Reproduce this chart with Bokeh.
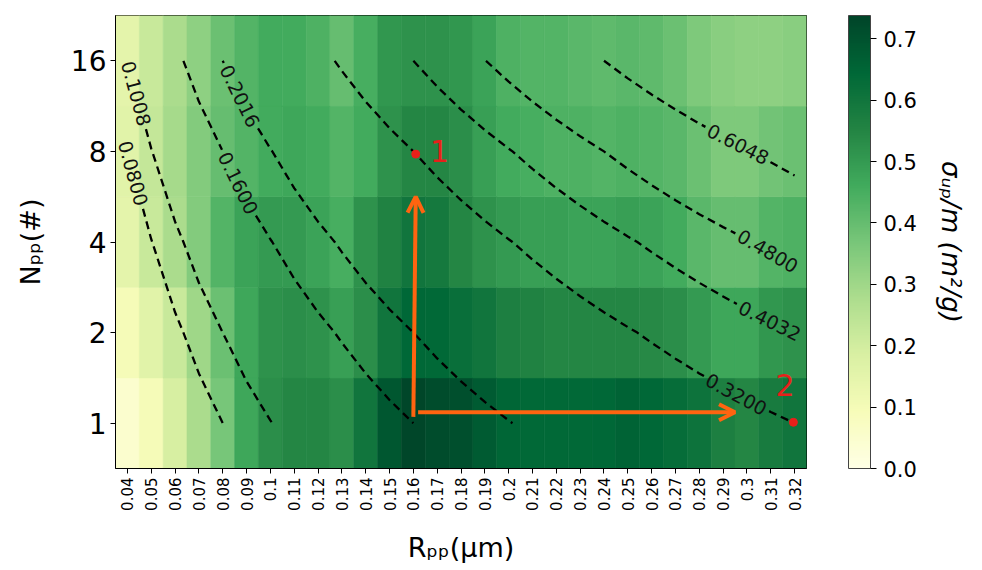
import math
import numpy as np
from bokeh.plotting import figure
from bokeh.models import (ColumnDataSource, LinearColorMapper, ColorBar, FixedTicker,
                          Range1d, LinearAxis, PrintfTickFormatter, Arrow, OpenHead)
from bokeh.core.properties import value
from bokeh.embed import file_html
from bokeh.resources import INLINE

# ---------------- data ----------------
R_UM = [0.04, 0.05, 0.06, 0.07, 0.08, 0.09, 0.10, 0.11, 0.12, 0.13, 0.14, 0.15,
        0.16, 0.17, 0.18, 0.19, 0.20, 0.21, 0.22, 0.23, 0.24, 0.25, 0.26, 0.27,
        0.28, 0.29, 0.30, 0.31, 0.32]
R_LABELS = ["0.04", "0.05", "0.06", "0.07", "0.08", "0.09", "0.1", "0.11", "0.12",
            "0.13", "0.14", "0.15", "0.16", "0.17", "0.18", "0.19", "0.2", "0.21",
            "0.22", "0.23", "0.24", "0.25", "0.26", "0.27", "0.28", "0.29", "0.3",
            "0.31", "0.32"]
N_PP = [1, 2, 4, 8, 16]
N_LABELS = ["1", "2", "4", "8", "16"]

# sigma_up / m  (m^2/g), one list per N_pp row
SIGMA_N1 = [0.05, 0.10, 0.19, 0.28, 0.37, 0.47, 0.53, 0.55, 0.55, 0.53, 0.60, 0.69,
            0.735, 0.72, 0.71, 0.68, 0.65, 0.64, 0.64, 0.64, 0.645, 0.66, 0.645, 0.63,
            0.61, 0.57, 0.55, 0.58, 0.60]
SIGMA_N2 = [0.10, 0.16, 0.22, 0.30, 0.39, 0.47, 0.52, 0.53, 0.52, 0.49, 0.53, 0.60,
            0.645, 0.64, 0.62, 0.60, 0.57, 0.56, 0.55, 0.55, 0.55, 0.55, 0.54, 0.53,
            0.50, 0.47, 0.47, 0.51, 0.52]
SIGMA_N4 = [0.15, 0.22, 0.28, 0.35, 0.43, 0.48, 0.50, 0.50, 0.48, 0.45, 0.52, 0.56,
            0.60, 0.59, 0.55, 0.52, 0.50, 0.49, 0.49, 0.48, 0.48, 0.49, 0.48, 0.46,
            0.42, 0.40, 0.40, 0.43, 0.44]
SIGMA_N8 = [0.16, 0.23, 0.29, 0.35, 0.40, 0.43, 0.46, 0.47, 0.46, 0.43, 0.46, 0.52,
            0.55, 0.55, 0.53, 0.49, 0.46, 0.45, 0.44, 0.44, 0.43, 0.44, 0.43, 0.42,
            0.39, 0.36, 0.36, 0.38, 0.39]
SIGMA_N16 = [0.15, 0.22, 0.28, 0.33, 0.39, 0.43, 0.46, 0.46, 0.44, 0.40, 0.45, 0.51,
             0.52, 0.52, 0.51, 0.48, 0.44, 0.43, 0.43, 0.42, 0.41, 0.42, 0.41, 0.39,
             0.36, 0.34, 0.33, 0.33, 0.34]
COLOR_MAX = 0.738

CONTOUR_LEVELS = [0.0800, 0.1008, 0.1600, 0.2016, 0.3200, 0.4032, 0.4800, 0.6048]
CONTOUR_LABELS = ["0.0800", "0.1008", "0.1600", "0.2016", "0.3200", "0.4032", "0.4800", "0.6048"]
CB_TICKS = [0.0, 0.1, 0.2, 0.3, 0.4, 0.5, 0.6, 0.7]

# ---------------- layout / style ----------------
FRAME_W, FRAME_H = 691, 453
FONT = "DejaVu Sans"
LABEL_Y = [2.76, 3.64, 2.65, 3.61, 0.32, 1.13, 1.90, 3.08]   # label positions along lines
ORANGE = "#ff6410"
RED = "#e8201a"

# colormap YlGn (matplotlib anchors) interpolated to 256
YLGN = ['#ffffe5', '#f7fcb9', '#d9f0a3', '#addd8e', '#78c679', '#41ab5d',
        '#238443', '#006837', '#004529']


def interp_palette(anchors, n=256):
    rgb = [tuple(int(h[i:i + 2], 16) for i in (1, 3, 5)) for h in anchors]
    out = []
    for k in range(n):
        t = k / (n - 1) * (len(rgb) - 1)
        i = min(int(t), len(rgb) - 2)
        f = t - i
        c = [round(rgb[i][m] + (rgb[i + 1][m] - rgb[i][m]) * f) for m in range(3)]
        out.append('#%02x%02x%02x' % tuple(c))
    return out


palette = interp_palette(YLGN)
mapper = LinearColorMapper(palette=palette, low=0.0, high=COLOR_MAX)

rows = [SIGMA_N1, SIGMA_N2, SIGMA_N4, SIGMA_N8, SIGMA_N16]
xs, ys, vs = [], [], []
for i, row in enumerate(rows):
    for j, v in enumerate(row):
        xs.append(j)
        ys.append(i)
        vs.append(v)
src = ColumnDataSource(dict(x=xs, y=ys, v=vs))

p = figure(frame_width=FRAME_W, frame_height=FRAME_H,
           x_range=Range1d(-0.5, len(R_UM) - 0.5), y_range=Range1d(-0.5, len(N_PP) - 0.5),
           output_backend="svg", toolbar_location=None,
           min_border_left=115, min_border_top=15, min_border_right=4, min_border_bottom=2)

cmap = {"field": "v", "transform": mapper}
p.rect(x="x", y="y", width=1, height=1, source=src, fill_color=cmap,
       line_color=cmap, line_width=0.6)

# contour field: equivalent radius R * N^(1/3) on the cell-centre grid
Q = np.array([[r * n ** (1.0 / 3.0) for r in R_UM] for n in N_PP])
SX = FRAME_W / len(R_UM)
SY = FRAME_H / len(N_PP)


def contour_pts(Q, L):
    pts = []
    ny, nx = Q.shape
    for i in range(ny):
        for j in range(nx - 1):
            a, b = Q[i, j], Q[i, j + 1]
            if (a - L) * (b - L) <= 0 and a != b:
                pts.append((j + (L - a) / (b - a), i))
    for j in range(nx):
        for i in range(ny - 1):
            a, b = Q[i, j], Q[i + 1, j]
            if (a - L) * (b - L) <= 0 and a != b:
                pts.append((j, i + (L - a) / (b - a)))
    pts = sorted(set((round(x, 9), round(y, 9)) for x, y in pts), key=lambda q: (q[0], -q[1]))
    return pts


def split_line(pts, yc, gap):
    P = [(x * SX, y * SY) for x, y in pts]
    s = [0.0]
    for k in range(1, len(P)):
        s.append(s[-1] + math.dist(P[k - 1], P[k]))
    ys_ = yc * SY
    s0 = None
    for k in range(len(P) - 1):
        if P[k][1] >= ys_ >= P[k + 1][1] and P[k][1] != P[k + 1][1]:
            f = (P[k][1] - ys_) / (P[k][1] - P[k + 1][1])
            s0 = s[k] + f * (s[k + 1] - s[k])
            break
    if s0 is None:
        s0 = s[-1] / 2

    def at(sv):
        sv = min(max(sv, 0), s[-1])
        for k in range(len(P) - 1):
            if s[k] <= sv <= s[k + 1]:
                f = 0 if s[k + 1] == s[k] else (sv - s[k]) / (s[k + 1] - s[k])
                return (P[k][0] + f * (P[k + 1][0] - P[k][0]), P[k][1] + f * (P[k + 1][1] - P[k][1]))
        return P[-1]

    segs = []
    a_end, b_start = s0 - gap / 2, s0 + gap / 2
    if a_end > 0:
        seg = [P[k] for k in range(len(P)) if s[k] < a_end] + [at(a_end)]
        segs.append(seg)
    if b_start < s[-1]:
        seg = [at(b_start)] + [P[k] for k in range(len(P)) if s[k] > b_start]
        segs.append(seg)
    c = at(s0)
    pa, pb = at(s0 - 12), at(s0 + 12)
    ang = math.atan2(pb[1] - pa[1], pb[0] - pa[0])
    if ang > math.pi / 2:
        ang -= math.pi
    if ang <= -math.pi / 2:
        ang += math.pi
    segs = [[(x / SX, y / SY) for x, y in sg] for sg in segs]
    return segs, (c[0] / SX, c[1] / SY), ang


ml_x, ml_y = [], []
lab_x, lab_y, lab_t, lab_a = [], [], [], []
for L, txt, yc in zip(CONTOUR_LEVELS, CONTOUR_LABELS, LABEL_Y):
    pts = contour_pts(Q, L)
    segs, c, ang = split_line(pts, yc, 74)
    for sg in segs:
        ml_x.append([q[0] for q in sg])
        ml_y.append([q[1] for q in sg])
    lab_x.append(c[0])
    lab_y.append(c[1])
    lab_t.append(txt)
    lab_a.append(ang)

p.multi_line(xs=ml_x, ys=ml_y, line_color="black", line_width=2.3, line_dash="8 5")
p.text(x=lab_x, y=lab_y, text=lab_t, angle=lab_a, text_align="center",
       text_baseline="middle", text_font=value(FONT), text_font_size="19px",
       text_color="#111111")

# hand-drawn annotations (orange arrows, red marks)
p.add_layout(Arrow(end=OpenHead(size=16, line_color=ORANGE, line_width=4),
                   x_start=12.0, y_start=0.07, x_end=12.1, y_end=2.5,
                   line_color=ORANGE, line_width=4))
p.add_layout(Arrow(end=OpenHead(size=16, line_color=ORANGE, line_width=4),
                   x_start=12.2, y_start=0.12, x_end=25.5, y_end=0.12,
                   line_color=ORANGE, line_width=4))
p.scatter(x=[12.1, 27.95], y=[2.97, 0.01], size=8, color=RED)
p.text(x=[13.1, 27.6], y=[3.0, 0.42], text=["1", "2"], text_align="center",
       text_baseline="middle", text_font=value(FONT), text_font_size="30px",
       text_color=RED)

# axes
p.xaxis.ticker = FixedTicker(ticks=list(range(len(R_UM))))
p.xaxis.major_label_overrides = {j: lbl for j, lbl in enumerate(R_LABELS)}
p.xaxis.major_label_orientation = math.pi / 2
p.yaxis.ticker = FixedTicker(ticks=list(range(len(N_PP))))
p.yaxis.major_label_overrides = {i: lbl for i, lbl in enumerate(N_LABELS)}
p.xaxis.axis_label = "Rₚₚ(μm)"
p.yaxis.axis_label = "Nₚₚ(#)"
for ax, fs in ((p.xaxis, "15px"), (p.yaxis, "28px")):
    ax.major_label_text_font = FONT
    ax.major_label_text_font_size = fs
    ax.major_label_text_color = "black"
    ax.axis_label_text_font = FONT
    ax.axis_label_text_font_size = "27px"
    ax.axis_label_text_font_style = "normal"
    ax.axis_label_text_color = "black"
    ax.major_tick_in = 0
    ax.major_tick_out = 5
    ax.major_tick_line_color = "black"
    ax.minor_tick_line_color = None
    ax.axis_line_color = "black"
p.xaxis.major_label_standoff = 4
p.yaxis.major_label_standoff = 4
p.xaxis.axis_label_standoff = 18
p.yaxis.axis_label_standoff = 22
p.xgrid.grid_line_color = None
p.ygrid.grid_line_color = None
p.outline_line_color = "black"
p.outline_line_alpha = 1
p.background_fill_color = "white"

cb = ColorBar(color_mapper=mapper, ticker=FixedTicker(ticks=CB_TICKS),
              formatter=PrintfTickFormatter(format="%.1f"),
              width=22, height=FRAME_H, margin=0, padding=0, location=(42, 0),
              major_label_text_font=FONT, major_label_text_font_size="21px",
              major_label_text_color="black", label_standoff=7,
              major_tick_in=0, major_tick_out=6, major_tick_line_color="black",
              minor_tick_line_color=None, bar_line_color="#444444",
              background_fill_color=None, border_line_color=None)
p.add_layout(cb, "right")

p.extra_y_ranges = {"cbt": Range1d(0, 1)}
tax = LinearAxis(y_range_name="cbt", ticker=FixedTicker(ticks=[]),
                 axis_line_color=None, major_tick_line_color=None,
                 minor_tick_line_color=None, major_label_text_font_size="0px",
                 axis_label="σᵤₚ/m (m²/g)", axis_label_text_font=FONT,
                 axis_label_text_font_size="26px", axis_label_text_font_style="italic",
                 axis_label_text_color="black", axis_label_standoff=16)
p.add_layout(tax, "right")

open("out.html", "w").write(file_html(p, INLINE))
